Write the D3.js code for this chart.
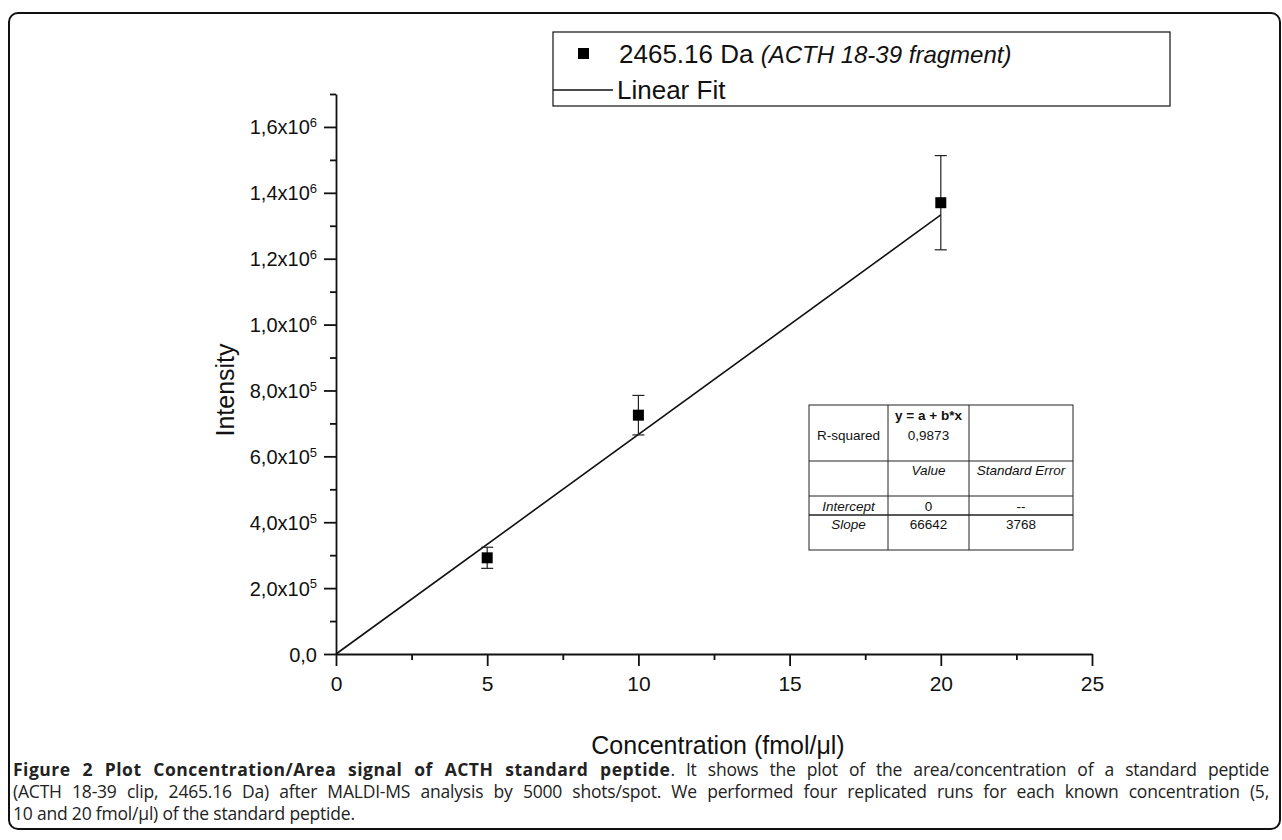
<!DOCTYPE html>
<html>
<head>
<meta charset="utf-8">
<script src="https://cdn.jsdelivr.net/npm/d3@7"></script>
<style>
  body { margin: 0; background: #fff; }
  #wrap { position: relative; width: 1282px; height: 840px; }
  svg { position: absolute; left: 0; top: 0; }
  .caption { position: absolute; left: 13px; width: 1256px; font-family: "Open Sans", "Noto Sans", sans-serif;
             font-size: 17.5px; line-height: 22px; color: #222; white-space: nowrap; letter-spacing: -0.2px; }
  .caption b { letter-spacing: 0.5px; }
  .caption.just { text-align: justify; text-align-last: justify; }
</style>
</head>
<body>
<div id="wrap">
  <svg id="chart" width="1282" height="840"></svg>
  <div class="caption just" style="top:758px"><b>Figure 2 Plot Concentration/Area signal of ACTH standard peptide</b>. It shows the plot of the area/concentration of a standard peptide</div>
  <div class="caption just" style="top:780px">(ACTH 18-39 clip, 2465.16 Da) after MALDI-MS analysis by 5000 shots/spot. We performed four replicated runs for each known concentration (5,</div>
  <div class="caption" style="top:802px">10 and 20 fmol/μl) of the standard peptide.</div>
</div>
<script>
(function() {
  // data
  const concentration = [5, 10, 20];
  const intensity = [292000, 725000, 1370000];
  const intensityErr = [32000, 60000, 143000];

  // linear fit (from the table)
  const fitIntercept = 0;
  const fitSlope = 66642;
  const fitRange = [0, 20];

  const xMajor = [0, 5, 10, 15, 20, 25];
  const xMinor = [2.5, 7.5, 12.5, 17.5, 22.5];
  const yMajor = [0, 200000, 400000, 600000, 800000, 1000000, 1200000, 1400000, 1600000];
  const yMinor = [100000, 300000, 500000, 700000, 900000, 1100000, 1300000, 1500000, 1700000];

  const tableRows = [
    ['', 'y = a + b*x', ''],
    ['R-squared', '0,9873', ''],
    ['', 'Value', 'Standard Error'],
    ['Intercept', '0', '--'],
    ['Slope', '66642', '3768']
  ];

  const svg = d3.select('#chart');
  const font = 'Liberation Sans, Arial, sans-serif';

  // outer figure frame
  svg.append('rect')
    .attr('x', 9).attr('y', 13)
    .attr('width', 1271).attr('height', 816)
    .attr('rx', 9)
    .attr('fill', 'none')
    .attr('stroke', '#111')
    .attr('stroke-width', 2);

  const xScale = d3.scaleLinear().domain([0, 25]).range([336, 1092]);
  const yScale = d3.scaleLinear().domain([0, 1700000]).range([654, 94]);

  // x axis
  const xAxis = svg.append('g')
    .attr('transform', `translate(0, ${yScale(0)})`)
    .call(d3.axisBottom(xScale).tickValues(xMajor).tickSize(12).tickSizeOuter(0).tickPadding(10));
  svg.append('g')
    .attr('transform', `translate(0, ${yScale(0)})`)
    .call(d3.axisBottom(xScale).tickValues(xMinor).tickSize(6).tickSizeOuter(0).tickFormat(''))
    .select('.domain').remove();
  xAxis.selectAll('text')
    .attr('font-family', font).attr('font-size', 21).attr('fill', '#111');

  // y axis
  const yAxis = svg.append('g')
    .attr('transform', `translate(${xScale(0)}, 0)`)
    .call(d3.axisLeft(yScale).tickValues(yMajor).tickSize(12).tickSizeOuter(0).tickFormat(''));
  svg.append('g')
    .attr('transform', `translate(${xScale(0)}, 0)`)
    .call(d3.axisLeft(yScale).tickValues(yMinor).tickSize(6).tickSizeOuter(0).tickFormat(''))
    .select('.domain').remove();

  // y tick labels like 1,6x10^6
  yAxis.selectAll('.tick').each(function(v) {
    const t = d3.select(this).select('text')
      .attr('font-family', font).attr('font-size', 20).attr('fill', '#111')
      .attr('x', -19).attr('dy', '0.35em');
    if (v === 0) { t.text('0,0'); return; }
    const e = Math.floor(Math.log10(v));
    const m = (v / Math.pow(10, e)).toFixed(1).replace('.', ',');
    t.text(null);
    t.append('tspan').text(m + 'x10');
    t.append('tspan').attr('dy', '-0.55em').attr('font-size', 13).text(e);
  });

  svg.selectAll('.domain, .tick line').attr('stroke', '#111').attr('stroke-width', 1.8);

  // axis titles
  svg.append('text')
    .attr('x', 718).attr('y', 754)
    .attr('text-anchor', 'middle')
    .attr('font-family', font).attr('font-size', 25).attr('fill', '#111')
    .text('Concentration (fmol/μl)');
  svg.append('text')
    .attr('transform', 'translate(234, 390) rotate(-90)')
    .attr('text-anchor', 'middle')
    .attr('font-family', font).attr('font-size', 25).attr('fill', '#111')
    .text('Intensity');

  // fit line
  svg.append('line')
    .attr('x1', xScale(fitRange[0])).attr('y1', yScale(fitIntercept + fitSlope * fitRange[0]))
    .attr('x2', xScale(fitRange[1])).attr('y2', yScale(fitIntercept + fitSlope * fitRange[1]))
    .attr('stroke', '#111').attr('stroke-width', 1.6);

  // error bars
  const pts = concentration.map((c, i) => ({x: c, y: intensity[i], e: intensityErr[i]}));
  const eb = svg.append('g').selectAll('g').data(pts).enter().append('g')
    .attr('stroke', '#222').attr('stroke-width', 1.2);
  eb.append('line')
    .attr('x1', d => xScale(d.x)).attr('x2', d => xScale(d.x))
    .attr('y1', d => yScale(d.y - d.e)).attr('y2', d => yScale(d.y + d.e));
  eb.append('line')
    .attr('x1', d => xScale(d.x) - 6).attr('x2', d => xScale(d.x) + 6)
    .attr('y1', d => yScale(d.y - d.e)).attr('y2', d => yScale(d.y - d.e));
  eb.append('line')
    .attr('x1', d => xScale(d.x) - 6).attr('x2', d => xScale(d.x) + 6)
    .attr('y1', d => yScale(d.y + d.e)).attr('y2', d => yScale(d.y + d.e));

  // markers
  svg.append('g').selectAll('rect').data(pts).enter().append('rect')
    .attr('x', d => xScale(d.x) - 5.5).attr('y', d => yScale(d.y) - 5.5)
    .attr('width', 11).attr('height', 11)
    .attr('fill', '#000');

  // legend
  const lg = svg.append('g');
  lg.append('rect')
    .attr('x', 553).attr('y', 32).attr('width', 617).attr('height', 74)
    .attr('fill', '#fff').attr('stroke', '#111').attr('stroke-width', 1.2);
  lg.append('rect')
    .attr('x', 578).attr('y', 48).attr('width', 11).attr('height', 11).attr('fill', '#000');
  const lt = lg.append('text')
    .attr('x', 619).attr('y', 63)
    .attr('font-family', font).attr('font-size', 26).attr('fill', '#111');
  lt.append('tspan').text('2465.16 Da ');
  lt.append('tspan').attr('font-style', 'italic').attr('font-size', 24).text('(ACTH 18-39 fragment)');
  lg.append('line')
    .attr('x1', 553).attr('x2', 613).attr('y1', 90).attr('y2', 90)
    .attr('stroke', '#111').attr('stroke-width', 1.4);
  lg.append('text')
    .attr('x', 617).attr('y', 99)
    .attr('font-family', font).attr('font-size', 26).attr('fill', '#111')
    .text('Linear Fit');

  // fit results table
  const colX = [809, 888, 969, 1073];
  const rowY = [405, 461, 496, 515, 550];
  const textY = [420, 440, 475, 511, 529];
  const tb = svg.append('g');
  tb.append('rect')
    .attr('x', colX[0]).attr('y', rowY[0])
    .attr('width', colX[3] - colX[0]).attr('height', rowY[4] - rowY[0])
    .attr('fill', '#fff').attr('stroke', '#222').attr('stroke-width', 1);
  [colX[1], colX[2]].forEach(x => tb.append('line')
    .attr('x1', x).attr('x2', x).attr('y1', rowY[0]).attr('y2', rowY[4])
    .attr('stroke', '#222').attr('stroke-width', 1));
  [rowY[1], rowY[2], rowY[3]].forEach((y, i) => tb.append('line')
    .attr('x1', colX[0]).attr('x2', colX[3]).attr('y1', y).attr('y2', y)
    .attr('stroke', '#222').attr('stroke-width', i === 2 ? 1.6 : 1));
  tableRows.forEach((row, r) => {
    row.forEach((cell, c) => {
      if (!cell) return;
      const italic = (r === 2 && c > 0) || (r >= 3 && c === 0);
      tb.append('text')
        .attr('x', (colX[c] + colX[c + 1]) / 2).attr('y', textY[r])
        .attr('text-anchor', 'middle')
        .attr('font-family', font).attr('font-size', 13.5).attr('fill', '#111')
        .attr('font-weight', r === 0 ? 'bold' : 'normal')
        .attr('font-style', italic ? 'italic' : 'normal')
        .text(cell);
    });
  });
})();
</script>
</body>
</html>
